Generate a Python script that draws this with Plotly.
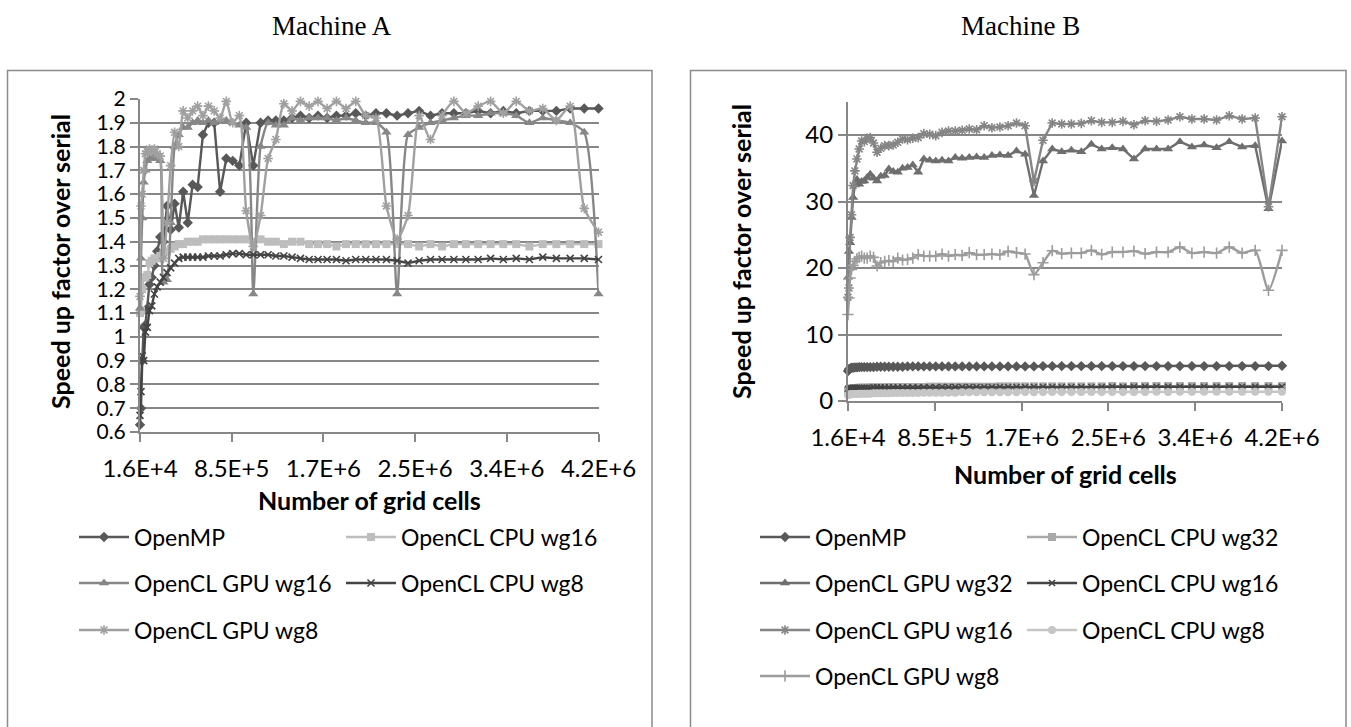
import plotly.graph_objects as go

# ---------------- data ----------------
grid_sizes = [128, 160, 192, 224, 256, 288, 320, 352, 384, 416,
              448, 480, 512, 544, 576, 608, 640, 672, 704, 736,
              768, 800, 832, 864, 896, 928, 960, 992, 1024, 1056,
              1088, 1120, 1152, 1184, 1216, 1248, 1280, 1312, 1344, 1376,
              1408, 1440, 1472, 1504, 1536, 1568, 1600, 1632, 1664, 1696,
              1728, 1760, 1792, 1824, 1856, 1888, 1920, 1952, 1984, 2016,
              2048]
cells = [n * n for n in grid_sizes]

tick_vals = [16384, 851968, 1687552, 2523136, 3358720, 4194304]
tick_text = ["1.6E+4", "8.5E+5", "1.7E+6", "2.5E+6", "3.4E+6", "4.2E+6"]

# Machine A
a_openmp = [0.63, 0.70, 0.90, 1.04, 1.05, 1.12, 1.22, 1.25, 1.30, 1.36,
            1.42, 1.40, 1.55, 1.45, 1.56, 1.46, 1.61, 1.48, 1.64, 1.63,
            1.85, 1.90, 1.90, 1.61, 1.75, 1.74, 1.72, 1.90, 1.72, 1.90,
            1.91, 1.91, 1.91, 1.92, 1.93, 1.92, 1.93, 1.92, 1.93, 1.93,
            1.94, 1.93, 1.94, 1.94, 1.93, 1.94, 1.95, 1.93, 1.94, 1.94,
            1.94, 1.95, 1.94, 1.95, 1.94, 1.95, 1.95, 1.95, 1.96, 1.96,
            1.96]
a_cpu_wg16 = [1.10, 1.11, 1.20, 1.25, 1.25, 1.26, 1.31, 1.32, 1.33, 1.33,
              1.34, 1.35, 1.36, 1.37, 1.38, 1.39, 1.39, 1.40, 1.40, 1.40,
              1.41, 1.41, 1.41, 1.41, 1.41, 1.41, 1.41, 1.41, 1.40, 1.41,
              1.40, 1.40, 1.39, 1.40, 1.40, 1.39, 1.39, 1.39, 1.38, 1.39,
              1.39, 1.39, 1.39, 1.39, 1.39, 1.39, 1.38, 1.39, 1.38, 1.39,
              1.39, 1.39, 1.39, 1.39, 1.39, 1.38, 1.39, 1.39, 1.39, 1.39,
              1.39]
a_gpu_wg16 = [1.12, 1.33, 1.50, 1.65, 1.70, 1.74, 1.75, 1.75, 1.76, 1.75,
              1.74, 1.23, 1.24, 1.48, 1.80, 1.85, 1.88, 1.88, 1.90, 1.91,
              1.90, 1.91, 1.90, 1.91, 1.91, 1.90, 1.89, 1.88, 1.18, 1.80,
              1.90, 1.89, 1.89, 1.92, 1.91, 1.92, 1.92, 1.92, 1.91, 1.92,
              1.91, 1.90, 1.90, 1.86, 1.18, 1.85, 1.88, 1.90, 1.91, 1.92,
              1.93, 1.93, 1.94, 1.94, 1.93, 1.90, 1.92, 1.91, 1.90, 1.86,
              1.18]
a_cpu_wg8 = [0.67, 0.77, 0.92, 0.90, 1.02, 1.04, 1.11, 1.13, 1.18, 1.21,
             1.23, 1.25, 1.27, 1.29, 1.31, 1.33, 1.335, 1.335, 1.335, 1.335,
             1.335, 1.34, 1.34, 1.34, 1.345, 1.35, 1.35, 1.345, 1.345, 1.345,
             1.345, 1.34, 1.34, 1.335, 1.33, 1.325, 1.325, 1.325, 1.325, 1.32,
             1.325, 1.325, 1.325, 1.325, 1.32, 1.31, 1.32, 1.325, 1.325, 1.325,
             1.325, 1.325, 1.33, 1.325, 1.33, 1.325, 1.335, 1.33, 1.33, 1.33,
             1.325]
a_gpu_wg8 = [1.17, 1.55, 1.60, 1.70, 1.77, 1.78, 1.79, 1.78, 1.79, 1.77,
             1.76, 1.33, 1.48, 1.72, 1.86, 1.80, 1.95, 1.92, 1.95, 1.97,
             1.93, 1.97, 1.95, 1.92, 1.99, 1.90, 1.93, 1.53, 1.38, 1.51,
             1.75, 1.83, 1.98, 1.95, 1.99, 1.97, 1.99, 1.96, 1.99, 1.96,
             1.99, 1.93, 1.92, 1.55, 1.41, 1.51, 1.93, 1.83, 1.93, 1.99,
             1.94, 1.97, 1.99, 1.94, 1.99, 1.95, 1.96, 1.91, 1.97, 1.54,
             1.44]

# Machine B
b_openmp = [4.5, 4.8, 4.9, 5.0, 5.0, 5.05, 5.05, 5.1, 5.1, 5.1,
            5.1, 5.1, 5.1, 5.15, 5.15, 5.15, 5.15, 5.15, 5.15, 5.15,
            5.2, 5.2, 5.2, 5.2, 5.2, 5.2, 5.2, 5.2, 5.2, 5.2,
            5.2, 5.2, 5.2, 5.2, 5.2, 5.2, 5.2, 5.2, 5.2, 5.25,
            5.25, 5.25, 5.25, 5.25, 5.25, 5.25, 5.25, 5.25, 5.25, 5.25,
            5.25, 5.25, 5.25, 5.25, 5.25, 5.25, 5.25, 5.25, 5.25, 5.25,
            5.3]
b_cpu_wg32 = [1.50, 1.70, 1.80, 1.85, 1.90, 1.95, 1.95, 2.00, 2.00, 2.00,
              2.00, 2.05, 2.05, 2.05, 2.05, 2.05, 2.10, 2.10, 2.10, 2.10,
              2.10, 2.10, 2.10, 2.10, 2.15, 2.15, 2.15, 2.15, 2.15, 2.15,
              2.15, 2.15, 2.15, 2.15, 2.20, 2.20, 2.20, 2.20, 2.20, 2.20,
              2.20, 2.20, 2.20, 2.20, 2.20, 2.20, 2.25, 2.20, 2.25, 2.25,
              2.25, 2.25, 2.25, 2.25, 2.25, 2.25, 2.25, 2.25, 2.25, 2.25,
              2.25]
b_gpu_wg32 = [18.6, 22.5, 23.8, 27.6, 30.6, 32.5, 33.3, 32.6, 33.0, 33.1,
              33.6, 34.1, 33.5, 33.1, 33.8, 33.9, 34.9, 34.5, 34.4, 35.0,
              35.1, 35.5, 34.4, 36.4, 36.2, 36.1, 36.2, 36.1, 36.6, 36.5,
              36.6, 36.7, 36.6, 36.9, 37.0, 36.9, 37.6, 37.1, 30.9, 36.1,
              37.9, 37.5, 37.7, 37.5, 38.6, 37.9, 38.1, 37.9, 36.4, 37.9,
              37.9, 37.9, 39.0, 38.2, 38.5, 38.1, 39.0, 38.2, 38.4, 28.9,
              39.1]
b_cpu_wg16 = [1.80, 1.90, 1.95, 1.95, 2.00, 2.00, 2.00, 2.00, 2.00, 2.00,
              2.00, 2.00, 2.05, 2.05, 2.05, 2.05, 2.05, 2.05, 2.05, 2.05,
              2.05, 2.05, 2.05, 2.05, 2.05, 2.05, 2.10, 2.10, 2.10, 2.10,
              2.10, 2.10, 2.10, 2.10, 2.10, 2.10, 2.10, 2.10, 2.10, 2.10,
              2.10, 2.10, 2.10, 2.10, 2.10, 2.10, 2.15, 2.10, 2.15, 2.15,
              2.15, 2.15, 2.15, 2.15, 2.15, 2.15, 2.15, 2.15, 2.15, 2.15,
              2.15]
b_gpu_wg16 = [15.6, 17.0, 24.6, 28.0, 32.4, 34.6, 36.4, 37.9, 39.1, 39.0,
              39.5, 39.6, 38.8, 37.4, 38.0, 38.4, 38.4, 38.5, 38.9, 39.4,
              39.3, 39.5, 39.6, 40.2, 40.1, 39.9, 40.4, 40.6, 40.6, 40.7,
              40.9, 40.8, 41.4, 41.1, 41.2, 41.4, 41.8, 41.4, 33.0, 39.2,
              41.8, 41.65, 41.65, 41.75, 42.15, 41.9, 41.9, 42.05, 41.55, 42.15,
              42.05, 42.25, 42.75, 42.4, 42.4, 42.25, 42.9, 42.4, 42.55, 29.2,
              42.75]
b_cpu_wg8 = [0.90, 0.95, 1.00, 1.00, 1.05, 1.05, 1.05, 1.10, 1.10, 1.10,
             1.10, 1.10, 1.15, 1.15, 1.15, 1.15, 1.15, 1.20, 1.20, 1.20,
             1.20, 1.20, 1.20, 1.25, 1.25, 1.25, 1.25, 1.25, 1.25, 1.30,
             1.30, 1.30, 1.30, 1.30, 1.30, 1.30, 1.30, 1.35, 1.30, 1.35,
             1.35, 1.35, 1.35, 1.35, 1.35, 1.35, 1.35, 1.35, 1.35, 1.35,
             1.40, 1.35, 1.40, 1.40, 1.40, 1.40, 1.40, 1.40, 1.40, 1.40,
             1.40]
b_gpu_wg8 = [13.0, 15.5, 18.5, 19.8, 20.4, 21.0, 21.4, 21.6, 21.8, 21.5,
             21.5, 21.8, 21.6, 20.3, 20.8, 21.0, 21.1, 21.0, 21.5, 21.2,
             21.3, 21.5, 22.0, 21.8, 21.8, 21.8, 22.1, 21.8, 22.0, 21.9,
             22.3, 22.0, 22.0, 22.1, 22.0, 22.5, 22.3, 22.1, 19.0, 20.8,
             22.6, 22.15, 22.25, 22.25, 22.65, 22.05, 22.4, 22.4, 22.55, 22.15,
             22.4, 22.4, 23.15, 22.25, 22.4, 22.25, 23.15, 22.25, 22.65, 16.65,
             22.65]

# ---------------- layout helpers ----------------
W, H = 1351, 727
def px(x):
    return x / W
def py(y):
    return 1 - y / H

FONT = "Lato"
GRID = "#878787"

fig = go.Figure()

def add(name, y, xa, ya, leg, color, symbol, size, smooth=False, line_marker=False):
    marker = dict(symbol=symbol, size=size, color=color,
                  line=dict(color=color, width=1.6 if line_marker else 0))
    fig.add_trace(go.Scatter(
        x=cells, y=y, name=name, mode="lines+markers",
        xaxis=xa, yaxis=ya, legend=leg, cliponaxis=False,
        line=dict(color=color, width=2.4,
                  shape="spline" if smooth else "linear", smoothing=0.6),
        marker=marker,
    ))

# Machine A
add("OpenMP", a_openmp, "x", "y", "legend", "#585858", "diamond", 8)
add("OpenCL CPU wg16", a_cpu_wg16, "x", "y", "legend", "#bdbdbd", "square", 8)
add("OpenCL GPU wg16", a_gpu_wg16, "x", "y", "legend2", "#878787", "triangle-up", 9, smooth=True)
add("OpenCL CPU wg8", a_cpu_wg8, "x", "y", "legend2", "#444444", "x-thin-open", 7, line_marker=True)
add("OpenCL GPU wg8", a_gpu_wg8, "x", "y", "legend3", "#a0a0a0", "asterisk-open", 8, smooth=True, line_marker=True)

# Machine B
add("OpenMP", b_openmp, "x2", "y2", "legend4", "#585858", "diamond", 8)
add("OpenCL CPU wg32", b_cpu_wg32, "x2", "y2", "legend4", "#a9a9a9", "square", 8)
add("OpenCL GPU wg32", b_gpu_wg32, "x2", "y2", "legend5", "#6e6e6e", "triangle-up", 9)
add("OpenCL CPU wg16", b_cpu_wg16, "x2", "y2", "legend5", "#444444", "x-thin-open", 6, line_marker=True)
add("OpenCL GPU wg16", b_gpu_wg16, "x2", "y2", "legend6", "#858585", "asterisk-open", 8, line_marker=True)
add("OpenCL CPU wg8", b_cpu_wg8, "x2", "y2", "legend6", "#c6c6c6", "circle", 8)
add("OpenCL GPU wg8", b_gpu_wg8, "x2", "y2", "legend7", "#9c9c9c", "cross-thin-open", 8, smooth=True, line_marker=True)

common_x = dict(range=[16384, 4194304], tickvals=tick_vals, ticktext=tick_text,
                showgrid=False, zeroline=False, showline=True, linecolor=GRID, linewidth=2,
                ticks="outside", ticklen=8, tickwidth=2, tickcolor=GRID,
                tickfont=dict(family=FONT, size=24, color="#000"),
                ticklabelstandoff=6, automargin=False)
common_y = dict(showgrid=True, gridcolor=GRID, gridwidth=2, zeroline=False,
                showline=True, linecolor=GRID, linewidth=2,
                ticks="outside", ticklen=8, tickwidth=2, tickcolor=GRID,
                automargin=False)

a_yticks = [0.6, 0.7, 0.8, 0.9, 1.0, 1.1, 1.2, 1.3, 1.4, 1.5, 1.6, 1.7, 1.8, 1.9, 2.0]
a_ytext = ["0.6", "0.7", "0.8", "0.9", "1", "1.1", "1.2", "1.3", "1.4", "1.5",
           "1.6", "1.7", "1.8", "1.9", "2"]
b_yticks = [0, 10, 20, 30, 40]

A_TOP, A_BOT = 99, 432
B_TOP, B_BOT = 101.75, 401

fig.update_layout(
    template="none",
    width=W, height=H, autosize=False,
    margin=dict(l=0, r=0, t=0, b=0, pad=0, autoexpand=False),
    paper_bgcolor="white", plot_bgcolor="white",
    xaxis=dict(domain=[px(140), px(598.5)], anchor="y", **common_x),
    yaxis=dict(domain=[py(A_BOT), py(A_TOP)], anchor="x", range=[0.6, 2.0],
               tickvals=a_yticks, ticktext=a_ytext,
               tickfont=dict(family=FONT, size=21, color="#000"), **common_y),
    xaxis2=dict(domain=[px(848), px(1282)], anchor="y2", **common_x),
    yaxis2=dict(domain=[py(B_BOT), py(B_TOP)], anchor="x2", range=[0, 45],
                tickvals=b_yticks,
                tickfont=dict(family=FONT, size=24, color="#000"), **common_y),
    showlegend=True,
)

leg_font = dict(family=FONT, size=23, color="#000")
def legend_row(xpx, ypx):
    return dict(orientation="h", x=px(xpx), y=py(ypx), xanchor="left", yanchor="middle",
                font=leg_font, bgcolor="rgba(0,0,0,0)", borderwidth=0, itemwidth=50,
                entrywidth=202, entrywidthmode="pixels", tracegroupgap=0)

fig.update_layout(
    legend=legend_row(74, 537),
    legend2=legend_row(74, 583),
    legend3=legend_row(74, 630),
    legend4=legend_row(755, 537),
    legend5=legend_row(755, 583),
    legend6=legend_row(755, 630),
    legend7=legend_row(755, 676),
)

title_font = dict(family="Liberation Serif", size=27, color="#000")
axis_title_font = dict(family=FONT, size=25, color="#000")
ann = [
    dict(text="Machine A", x=px(332), y=py(26), font=title_font),
    dict(text="Machine B", x=px(1020), y=py(26), font=title_font),
    dict(text="<b>Number of grid cells</b>", x=px(369), y=py(500), font=axis_title_font),
    dict(text="<b>Number of grid cells</b>", x=px(1065), y=py(474), font=axis_title_font),
    dict(text="<b>Speed up factor over serial</b>", x=px(60), y=py(262), textangle=-90,
         font=axis_title_font),
    dict(text="<b>Speed up factor over serial</b>", x=px(741), y=py(252), textangle=-90,
         font=axis_title_font),
]
for a in ann:
    a.update(xref="paper", yref="paper", showarrow=False, xanchor="center", yanchor="middle")
fig.update_layout(annotations=ann)

fig.update_layout(shapes=[
    dict(type="rect", xref="paper", yref="paper", x0=px(7.5), x1=px(652), y0=-0.05, y1=py(70.5),
         line=dict(color="#8a8a8a", width=1.5), fillcolor="rgba(0,0,0,0)", layer="below"),
    dict(type="rect", xref="paper", yref="paper", x0=px(690.5), x1=px(1346), y0=-0.05, y1=py(70.5),
         line=dict(color="#8a8a8a", width=1.5), fillcolor="rgba(0,0,0,0)", layer="below"),
])

fig.write_html("out.html")
